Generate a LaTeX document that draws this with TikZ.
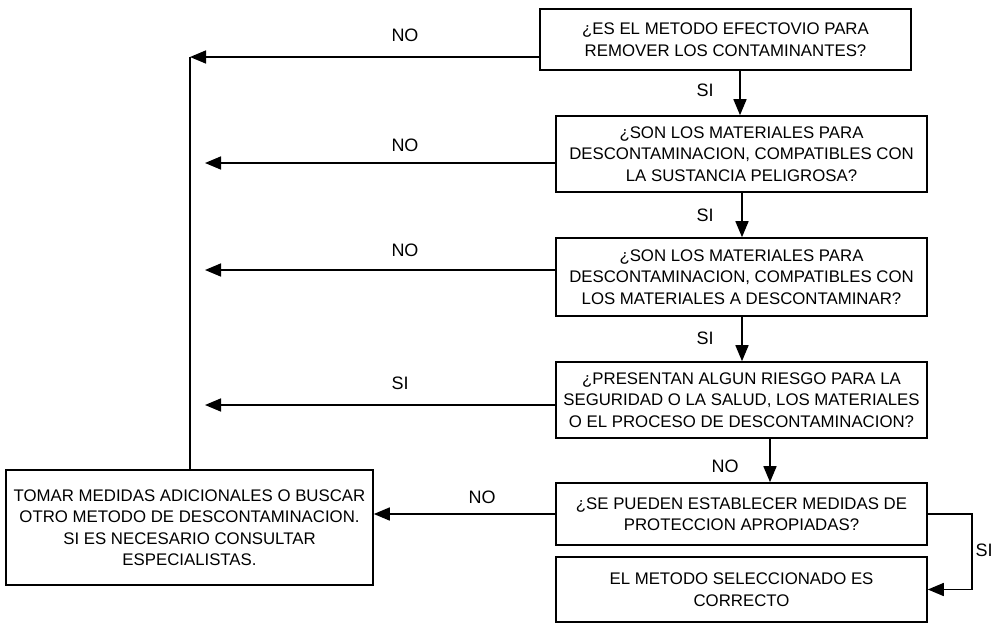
\documentclass[tikz,border=0pt]{standalone}
\usepackage{fontspec}
\setmainfont{Liberation Sans}
\usetikzlibrary{arrows.meta}
\begin{document}
\begin{tikzpicture}[x=1pt,y=-1pt,
  box/.style={draw,line width=1.6pt,align=center,inner sep=0pt,
    font=\fontsize{16.8}{21.5}\selectfont},
  lbl/.style={font=\fontsize{18}{20}\selectfont,inner sep=0pt},
  arr/.style={line width=1.6pt,-{Triangle[length=16pt,width=13pt]}},
  ln/.style={line width=1.6pt}]
\useasboundingbox (0,0) rectangle (999,627);
% boxes
\node[box,minimum width=371pt,minimum height=61pt] (b1) at (725.5,39.5)
  {¿ES EL METODO EFECTOVIO PARA\\REMOVER LOS CONTAMINANTES?};
\node[box,minimum width=371pt,minimum height=76pt] (b2) at (741.5,154)
  {¿SON LOS MATERIALES PARA\\DESCONTAMINACION, COMPATIBLES CON\\LA SUSTANCIA PELIGROSA?};
\node[box,minimum width=371pt,minimum height=78pt] (b3) at (741.5,277)
  {¿SON LOS MATERIALES PARA\\DESCONTAMINACION, COMPATIBLES CON\\LOS MATERIALES A DESCONTAMINAR?};
\node[box,minimum width=371pt,minimum height=76pt] (b4) at (741.5,400)
  {¿PRESENTAN ALGUN RIESGO PARA LA\\SEGURIDAD O LA SALUD, LOS MATERIALES\\O EL PROCESO DE DESCONTAMINACION?};
\node[box,minimum width=371pt,minimum height=62pt] (b5) at (741.5,514)
  {¿SE PUEDEN ESTABLECER MEDIDAS DE\\PROTECCION APROPIADAS?};
\node[box,minimum width=371pt,minimum height=65pt] (b6) at (741.5,589.5)
  {EL METODO SELECCIONADO ES\\CORRECTO};
\node[box,minimum width=367pt,minimum height=115pt] (lb) at (189.5,527.5)
  {TOMAR MEDIDAS ADICIONALES O BUSCAR\\OTRO METODO DE DESCONTAMINACION.\\SI ES NECESARIO CONSULTAR\\ESPECIALISTAS.};
% helper coordinates
\coordinate (xa) at (740,0);
\coordinate (xb) at (742,0);
\coordinate (xc) at (770,0);
\coordinate (c1) at (190,57);
\coordinate (e2) at (205,163);
\coordinate (e3) at (205,270);
\coordinate (e4) at (205,405);
\coordinate (r5) at (972,514);
% vertical arrows
\draw[arr] (b1.south -| xa) -- (b2.north -| xa);
\draw[arr] (b2.south -| xb) -- (b3.north -| xb);
\draw[arr] (b3.south -| xb) -- (b4.north -| xb);
\draw[arr] (b4.south -| xc) -- (b5.north -| xc);
% left arrows
\draw[arr] (b1.west |- c1) -- (c1);
\draw[ln] (lb.north -| c1) -- (c1);
\draw[arr] (b2.west |- e2) -- (e2);
\draw[arr] (b3.west |- e3) -- (e3);
\draw[arr] (b4.west |- e4) -- (e4);
\draw[arr] (b5.west) -- (lb.east |- b5.west);
\draw[arr] (b5.east) -- (r5) |- (b6.east);
% labels
\node[lbl] (n1) at (405,35) {NO};
\node[lbl] (n2) at (405,145) {NO};
\node[lbl] (n3) at (405,250) {NO};
\node[lbl] (n4) at (400,383) {SI};
\node[lbl] (n5) at (482,497) {NO};
\node[lbl] (s1) at (705,90) {SI};
\node[lbl] (s2) at (705,215) {SI};
\node[lbl] (s3) at (705,338) {SI};
\node[lbl] (s4) at (725,466) {NO};
\node[lbl] (s5) at (984,550) {SI};
\end{tikzpicture}
\end{document}
